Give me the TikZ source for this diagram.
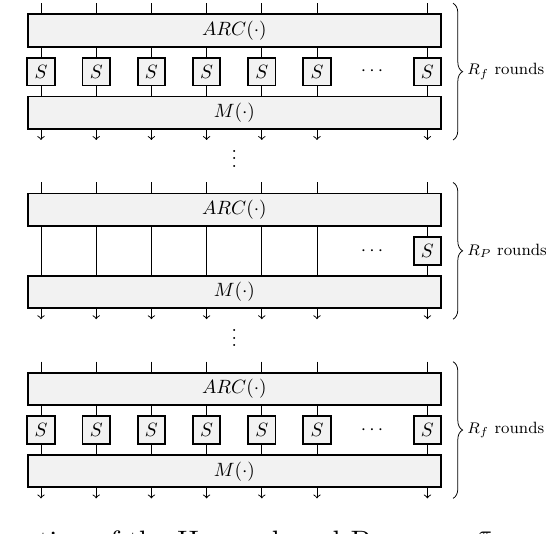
\documentclass[tikz,border=0pt]{standalone}
\usetikzlibrary{decorations.pathreplacing}
\begin{document}
\begin{tikzpicture}[x=0.52pt,y=0.52pt,
    wide/.style={draw,line width=0.9pt,fill=gray!10,minimum width=214.9pt,minimum height=16.8pt,inner sep=0pt},
    sbox/.style={draw,line width=0.9pt,fill=gray!10,minimum width=14.3pt,minimum height=14.5pt,inner sep=0pt},
    wire/.style={line width=0.5pt}]
  \useasboundingbox (0,0) rectangle (546,534);
  \foreach \k/\rnd/\full in {0/f/1,1/P/0,2/f/1}{
    \pgfmathsetmacro\ytop{534-179.2*\k}
    \node[wide] (arc\k) at (234.35,\ytop-30.5) {$ARC(\cdot)$};
    \node[wide] (m\k) at (234.35,\ytop-112.8) {$M(\cdot)$};
    \foreach \i in {0,1,2,3,4,5,7}{
      \coordinate (in\k\i) at (41+55.2*\i,\ytop-3.3);
      \coordinate (out\k\i) at (41+55.2*\i,\ytop-140);
      \draw[wire] (in\k\i) -- (in\k\i |- arc\k.north);
      \draw[wire,->] (out\k\i |- m\k.south) -- (out\k\i);
    }
    \ifnum\full=1
      \foreach \i in {0,1,2,3,4,5,7}{
        \node[sbox] (s\k\i) at (41+55.2*\i,\ytop-71.7) {$S$};
        \draw[wire] (s\k\i |- arc\k.south) -- (s\k\i);
        \draw[wire] (s\k\i) -- (s\k\i |- m\k.north);
      }
    \else
      \node[sbox] (s\k7) at (427.4,\ytop-71.7) {$S$};
      \draw[wire] (s\k7 |- arc\k.south) -- (s\k7);
      \draw[wire] (s\k7) -- (s\k7 |- m\k.north);
      \foreach \i in {0,...,5}{
        \draw[wire] (in\k\i |- arc\k.south) -- (in\k\i |- m\k.north);
      }
    \fi
    \node (dots\k) at (372,\ytop-71.7) {$\cdots$};
    \coordinate (bt\k) at (453,\ytop-3.3);
    \coordinate (bb\k) at (453,\ytop-140);
    \draw[decorate,decoration={brace,amplitude=5pt}] (bt\k) -- (bb\k)
      node[midway,right=4pt,font=\fontsize{8.5}{10}\selectfont] (lab\k) {$R_\rnd$ rounds};
  }
  \node[inner sep=0pt] (vd0) at (234.35,534-153.2) {$\vdots$};
  \node[inner sep=0pt] (vd1) at (234.35,534-179.2-153.2) {$\vdots$};
  \begin{scope}
    \clip (0,0) rectangle (546,534);
    \coordinate (capat) at (-73,-16.5);
    \node[scale=1.46,anchor=base west,inner sep=0pt] (cap) at (capat)
      {Construction of the \textsc{Hades}-based \textsc{Poseidon}$^\pi$ permutation};
  \end{scope}
\end{tikzpicture}
\end{document}
